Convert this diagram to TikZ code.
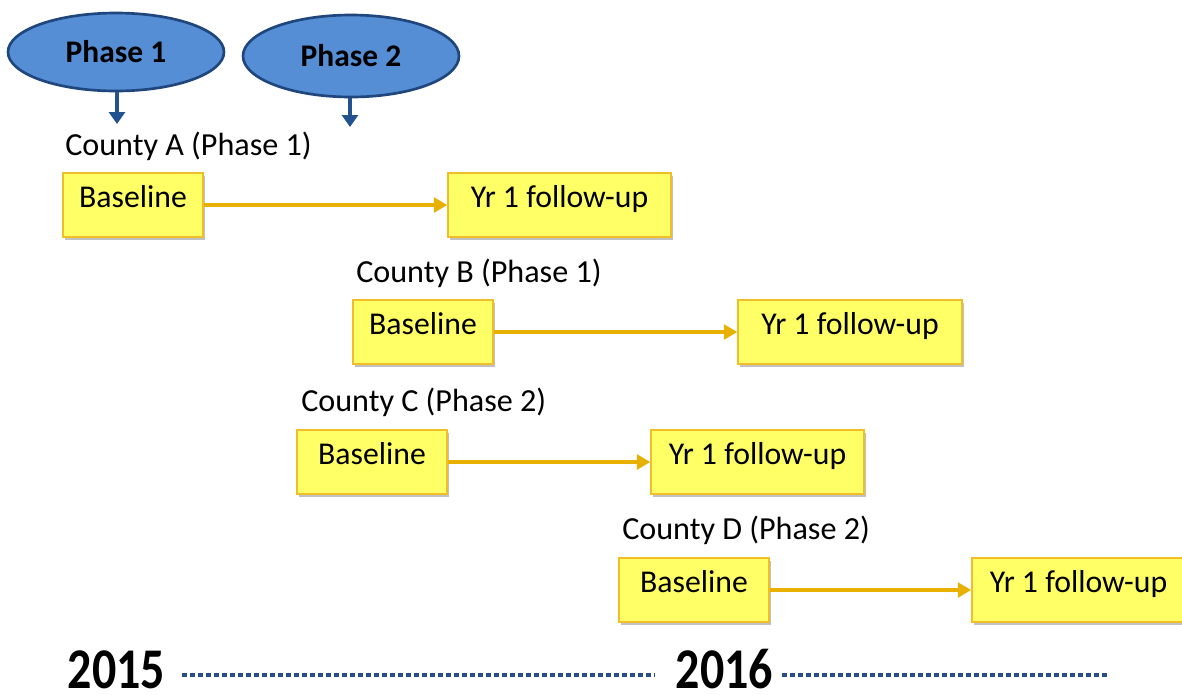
\documentclass[tikz,border=0pt]{standalone}
\usepackage{fontspec}
\setmainfont{Carlito}
\usetikzlibrary{arrows.meta,shapes.geometric,shadows}
\definecolor{phasefill}{RGB}{85,142,213}
\definecolor{phasedraw}{RGB}{31,70,125}
\definecolor{phasearrow}{RGB}{35,82,145}
\definecolor{boxfill}{RGB}{255,255,102}
\definecolor{boxdraw}{RGB}{240,190,40}
\definecolor{flowarrow}{RGB}{232,176,0}
\definecolor{timeline}{RGB}{40,78,135}
\tikzset{
  phase/.style={ellipse, draw=phasedraw, line width=2pt, fill=phasefill, inner sep=0pt,
    font=\fontsize{23.6}{27}\selectfont\bfseries},
  phasearr/.style={draw=phasearrow, line width=2.8pt, -{Triangle[length=9pt,width=12pt]}},
  stage/.style={draw=boxdraw, line width=1pt, fill=boxfill, inner sep=0pt,
    minimum height=48pt, text height=0.62em, text depth=0.3em,
    font=\fontsize{23.8}{28}\selectfont,
    drop shadow={shadow xshift=1.6pt, shadow yshift=-2.2pt, opacity=0.35, fill=black!70}},
  flow/.style={draw=flowarrow, line width=3pt, -{Triangle[length=10pt,width=11pt]}},
  county/.style={anchor=base west, inner sep=0pt, font=\fontsize{24.1}{28}\selectfont},
  year/.style={anchor=base, inner sep=0pt, font=\fontsize{36}{40}\selectfont\bfseries},
  timedots/.style={draw=timeline, line width=3pt, dash pattern=on 3.3pt off 2.7pt}
}
\begin{document}
\begin{tikzpicture}[x=0.75pt,y=-0.75pt]
\useasboundingbox (0,0) rectangle (1182,694);
\clip (0,0) rectangle (1182,694);

% phases
\node[phase, minimum width=162pt, minimum height=58.5pt] (p1) at (116,52) {Phase 1};
\node[phase, minimum width=162pt, minimum height=61.5pt] (p2) at (351,56) {Phase 2};
\coordinate (p1end) at (117,124);
\coordinate (p2end) at (350,127);
\draw[phasearr] (p1.south -| p1end) -- (p1end);
\draw[phasearr] (p2.south -| p2end) -- (p2end);

% County A
\node[county] (la) at (65,155) {County A (Phase 1)};
\node[stage, minimum width=105pt] (a1) at (133,205) {Baseline};
\node[stage, minimum width=167.3pt] (a2) at (559.5,205) {Yr 1 follow-up};
\draw[flow] (a1.east) -- (a2.west);

% County B
\node[county] (lb) at (356,282) {County B (Phase 1)};
\node[stage, minimum width=105pt] (b1) at (423,332) {Baseline};
\node[stage, minimum width=168pt] (b2) at (850,332) {Yr 1 follow-up};
\draw[flow] (b1.east) -- (b2.west);

% County C
\node[county] (lc) at (301,411) {County C (Phase 2)};
\node[stage, minimum width=112.5pt] (c1) at (372,462) {Baseline};
\node[stage, minimum width=159.8pt] (c2) at (757.5,462) {Yr 1 follow-up};
\draw[flow] (c1.east) -- (c2.west);

% County D
\node[county] (ld) at (622,539) {County D (Phase 2)};
\node[stage, minimum width=112.5pt] (d1) at (694,590) {Baseline};
\node[stage, minimum width=160pt] (d2) at (1078.5,590) {Yr 1 follow-up};
\draw[flow] (d1.east) -- (d2.west);

% timeline
\node[year] (y15) at (116.5,688) {\scalebox{1}[1.2]{2015}};
\node[year] (y16) at (724.5,688) {\scalebox{1}[1.2]{2016}};
\coordinate (t1) at (655,675);
\coordinate (t2) at (1108,675);
\draw[timedots] (y15.east |- t1) ++(17,0) -- (t1);
\draw[timedots] (y16.east |- t2) ++(9,0) -- (t2);
\end{tikzpicture}
\end{document}
